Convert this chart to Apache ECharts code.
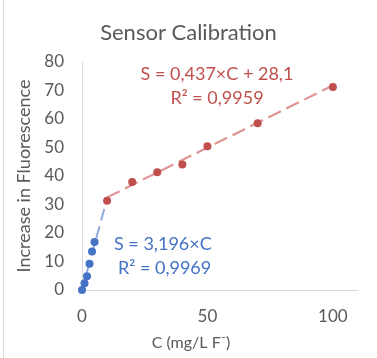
<!DOCTYPE html>
<html>
<head>
<meta charset="utf-8">
<script src="https://cdn.jsdelivr.net/npm/echarts@6/dist/echarts.min.js"></script>
<style>html,body{margin:0;padding:0;background:#fff}#c{width:377px;height:358px}</style>
</head>
<body>
<div id="c"></div>
<script>
// Data
var lowConc = [0, 1, 2, 3, 4, 5];
var lowSignal = [0, 2.4, 4.8, 9.2, 13.5, 16.8];
var highConc = [10, 20, 30, 40, 50, 70, 100];
var highSignal = [31.3, 37.9, 41.3, 44.0, 50.4, 58.5, 71.2];
var lowTrendConc = [0, 10];
var lowTrendSignal = [0, 32.0];
var highTrendConc = [10, 100];
var highTrendSignal = [32.5, 71.8];
var xTicks = [0, 50, 100];
var yTicks = [0, 10, 20, 30, 40, 50, 60, 70, 80];
var lowLabel = ['S = 3,196×C', 'R² = 0,9969'];
var highLabel = ['S = 0,437×C + 28,1', 'R² = 0,9959'];

function pairs(a, b) { return a.map(function (v, i) { return [v, b[i]]; }); }

var FONT = 'Lato, "Open Sans", sans-serif';
var GRAY = '#595959';
var BLUE = '#4472C4';
var RED = '#C0504D';

var chart = echarts.init(document.getElementById('c'));
chart.setOption({
  animation: false,
  textStyle: { fontFamily: FONT },
  title: {
    text: 'Sensor Calibration',
    left: 'center',
    top: 17,
    textStyle: { fontFamily: FONT, fontSize: 22, fontWeight: 'normal', color: GRAY }
  },
  grid: { left: 82, right: 19, top: 62, bottom: 68, containLabel: false },
  xAxis: {
    type: 'value', min: 0, max: 110, interval: 50,
    name: 'C (mg/L F⁻)', nameLocation: 'middle', nameGap: 45,
    nameTextStyle: { fontFamily: FONT, fontSize: 16, color: GRAY, padding: [0, 58, 0, 0] },
    axisLine: { show: true, lineStyle: { color: '#D9D9D9', width: 1 } },
    axisTick: { show: false },
    splitLine: { show: false },
    axisLabel: {
      fontFamily: FONT, fontSize: 17, color: GRAY, margin: 18,
      formatter: function (v) { return xTicks.indexOf(v) >= 0 ? String(v) : ''; }
    }
  },
  yAxis: {
    type: 'value', min: 0, max: 80, interval: 10,
    name: 'Increase in Fluorescence', nameLocation: 'middle', nameGap: 43, nameRotate: 90,
    nameTextStyle: { fontFamily: FONT, fontSize: 18, color: GRAY },
    axisLine: { show: true, lineStyle: { color: '#D9D9D9', width: 1 } },
    axisTick: { show: false },
    splitLine: { show: false },
    axisLabel: {
      fontFamily: FONT, fontSize: 17, color: GRAY, margin: 18,
      formatter: function (v) { return yTicks.indexOf(v) >= 0 ? String(v) : ''; }
    }
  },
  series: [
    {
      type: 'line', data: pairs(lowTrendConc, lowTrendSignal), symbol: 'none', silent: true,
      lineStyle: { color: '#8FAADC', width: 2, type: [12, 6] }, z: 1
    },
    {
      type: 'line', data: pairs(highTrendConc, highTrendSignal), symbol: 'none', silent: true,
      lineStyle: { color: '#DE9593', width: 2.2, type: [14, 6] }, z: 1
    },
    {
      type: 'scatter', data: pairs(lowConc, lowSignal), symbolSize: 8,
      itemStyle: { color: BLUE, opacity: 1 }, z: 3
    },
    {
      type: 'scatter', data: pairs(highConc, highSignal), symbolSize: 8,
      itemStyle: { color: RED, opacity: 1 }, z: 3
    }
  ],
  graphic: [
    { type: 'line', shape: { x1: 3.5, y1: 0, x2: 3.5, y2: 358 }, style: { stroke: '#D9D9D9', lineWidth: 1 } },
    { type: 'text', x: 217, y: 74, style: { text: highLabel[0], font: '18px ' + FONT, fill: RED, textAlign: 'center', textVerticalAlign: 'middle' } },
    { type: 'text', x: 217, y: 98, style: { text: highLabel[1], font: '18px ' + FONT, fill: RED, textAlign: 'center', textVerticalAlign: 'middle' } },
    { type: 'text', x: 114, y: 244, style: { text: lowLabel[0], font: '18px ' + FONT, fill: BLUE, textAlign: 'left', textVerticalAlign: 'middle' } },
    { type: 'text', x: 118, y: 268, style: { text: lowLabel[1], font: '18px ' + FONT, fill: BLUE, textAlign: 'left', textVerticalAlign: 'middle' } }
  ]
});
</script>
</body>
</html>
